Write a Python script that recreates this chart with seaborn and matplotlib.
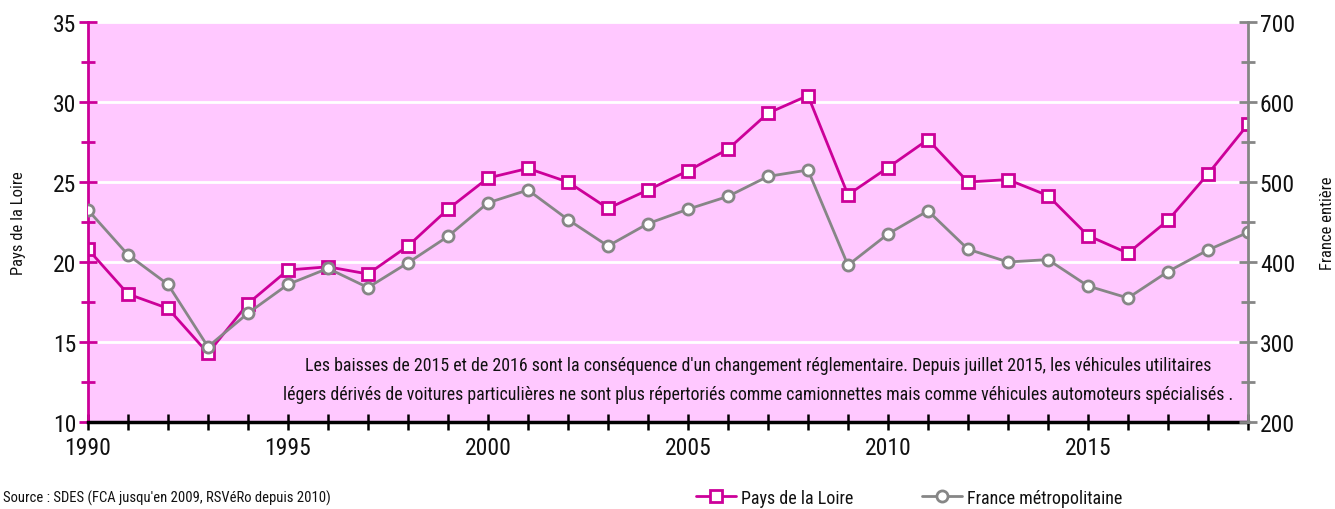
import numpy as np
import pandas as pd
import matplotlib
matplotlib.use("Agg")
import matplotlib.pyplot as plt
from matplotlib import font_manager
from matplotlib.ticker import MultipleLocator, FixedLocator
import seaborn as sns

years = list(range(1990, 2020))
pays_loire = [20.8, 18.0, 17.1, 14.3, 17.4, 19.5, 19.7, 19.25, 21.0, 23.3,
              25.25, 25.85, 25.0, 23.35, 24.5, 25.7, 27.05, 29.3, 30.4, 24.2,
              25.9, 27.65, 25.0, 25.15, 24.15, 21.65, 20.55, 22.6, 25.5, 28.6]
france_metro = [465, 409, 372, 294, 336, 372, 392, 368, 399, 432,
                474, 490, 453, 420, 448, 466, 482, 507, 515, 396,
                435, 464, 416, 400, 403, 370, 355, 388, 415, 437]
note = ("Les baisses de 2015 et de 2016 sont la conséquence d'un changement réglementaire. "
        "Depuis juillet 2015, les véhicules utilitaires\n"
        "légers dérivés de voitures particulières ne sont plus répertoriés comme camionnettes "
        "mais comme véhicules automoteurs spécialisés .")
source = "Source : SDES (FCA jusqu'en 2009, RSVéRo depuis 2010)"

magenta = "#CC0099"
grey = "#868686"
bg = "#FFC8FF"

sns.set_theme(style="ticks")
# police étroite si disponible
noms = {f.name for f in font_manager.fontManager.ttflist}
narrow = [n for n in ["Liberation Sans Narrow", "Roboto Condensed", "DejaVu Sans Condensed"] if n in noms]
plt.rcParams["font.family"] = narrow + ["DejaVu Sans"]
plt.rcParams["font.stretch"] = "condensed"
plt.rcParams["text.color"] = "#111111"
plt.rcParams["xtick.color"] = "#111111"
plt.rcParams["ytick.color"] = "#111111"
plt.rcParams["axes.labelcolor"] = "#111111"

df = pd.DataFrame({"annee": years, "pdl": pays_loire, "fr": france_metro})

fig = plt.figure(figsize=(13.35, 5.1), dpi=100)
ax = fig.add_axes([0.0659, 0.1706, 0.8689, 0.7843])
ax2 = ax.twinx()

ax.set_facecolor(bg)
ax.set_zorder(1)
ax2.set_zorder(2)
ax2.patch.set_visible(False)

sns.lineplot(data=df, x="annee", y="pdl", ax=ax, color=magenta, linewidth=2,
             marker="s", markersize=8, markerfacecolor="white",
             markeredgecolor=magenta, markeredgewidth=2, label="Pays de la Loire")
sns.lineplot(data=df, x="annee", y="fr", ax=ax2, color=grey, linewidth=2,
             marker="o", markersize=8, markerfacecolor="white",
             markeredgecolor=grey, markeredgewidth=2, label="France métropolitaine")

ax.set_xlim(1990, 2019)
ax.set_ylim(10, 35)
ax2.set_ylim(200, 700)

# grille blanche
ax.yaxis.set_major_locator(MultipleLocator(5))
ax.yaxis.set_minor_locator(MultipleLocator(2.5))
ax.grid(axis="y", which="major", color="white", linewidth=2)
ax.set_axisbelow(True)

ax.xaxis.set_major_locator(FixedLocator(years))
ax.set_xticklabels([str(y) if y % 5 == 0 else "" for y in years])

ax2.yaxis.set_major_locator(MultipleLocator(100))
ax2.yaxis.set_minor_locator(MultipleLocator(50))

for s in ["top", "right"]:
    ax.spines[s].set_visible(False)
ax.spines["left"].set_color(magenta)
ax.spines["left"].set_linewidth(2)
ax.spines["bottom"].set_color("black")
ax.spines["bottom"].set_linewidth(2.5)
ax.spines["bottom"].set_zorder(5)
for s in ["top", "left", "bottom"]:
    ax2.spines[s].set_visible(False)
ax2.spines["right"].set_color(grey)
ax2.spines["right"].set_linewidth(2)

ax.tick_params(axis="y", which="major", direction="inout", length=13, width=2,
               color=magenta, labelsize=17, pad=2)
ax.tick_params(axis="y", which="minor", direction="inout", length=10, width=2,
               color=magenta)
ax.tick_params(axis="x", which="major", direction="inout", length=12, width=1.8,
               color="black", labelsize=17, pad=4)
ax2.tick_params(axis="y", which="major", direction="inout", length=13, width=2,
                color=grey, labelsize=17, pad=2)
ax2.tick_params(axis="y", which="minor", direction="inout", length=10, width=2,
                color=grey)

ax.set_xlabel("")
ax.set_ylabel("Pays de la Loire", fontsize=12, labelpad=19)
ax2.set_ylabel("France entière", fontsize=12, labelpad=18)

note_size = 12.9 if narrow else 11
ax.text(2006.75, 12.65, note, ha="center", va="center", fontsize=note_size,
        linespacing=1.75, zorder=6)

h1, l1 = ax.get_legend_handles_labels()
h2, l2 = ax2.get_legend_handles_labels()
ax.get_legend().remove()
ax2.get_legend().remove()
fig.legend(h1 + h2, l1 + l2, loc="center", bbox_to_anchor=(0.681, 0.022),
           ncol=2, frameon=False, fontsize=13, handlelength=2.2,
           columnspacing=3.8, handletextpad=0.3, borderpad=0)

fig.text(0.002, 0.022, source, fontsize=10.5, va="center", ha="left")

fig.savefig("out.png", dpi=100)
